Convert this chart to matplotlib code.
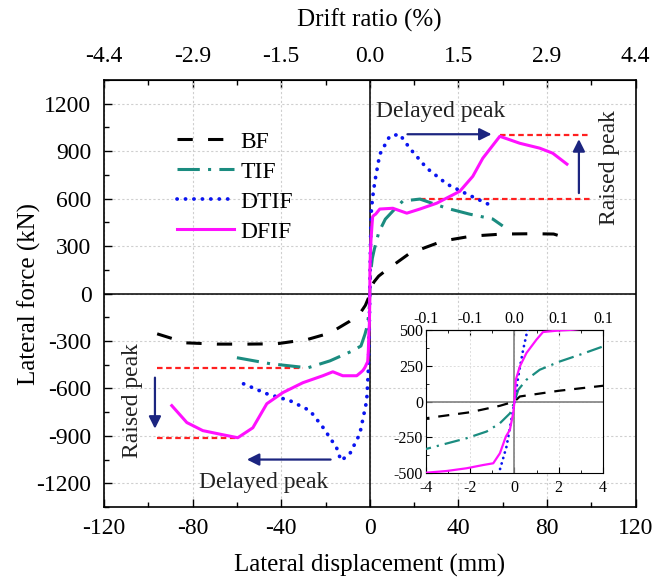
import matplotlib
matplotlib.use("Agg")
import matplotlib.pyplot as plt
from matplotlib.ticker import MultipleLocator

plt.rcParams['font.family'] = ['Liberation Serif', 'DejaVu Serif']
plt.rcParams['axes.unicode_minus'] = False

# ---------------- data (displacement mm, force kN) ----------------
BF_x = [-96, -83, -69, -55, -42, -28, -18, -9, -4, -2, -0.66, 0, 0.24, 2, 4, 7, 18, 33, 46, 60, 74, 83, 89]
BF_y = [-255, -312, -320, -320, -318, -290, -250, -175, -117, -75, -30, 0, 35, 75, 110, 143, 254, 332, 363, 376, 378, 376, 350]

TIF_x = [-60, -45, -28, -18, -7.7, -4, -2.17, -1.26, -0.66, -0.2, 0, 0.17, 0.54, 1.14, 2.05, 2.95, 4, 7,
         10.4, 14.9, 22.6, 34.8, 45, 55.5, 60]
TIF_y = [-406, -444, -470, -426, -362, -332, -257, -210, -152, -82, 0, 82, 152, 222, 280, 327, 385, 470,
         521, 585, 597, 539, 502, 471, 427]

DTIF_x = [-57, -46.5, -36, -27, -21, -15, -13, -9, -4.5, -1.4, -0.7, -0.36, -0.06, 0, 0.17, 0.39, 0.59, 1.2,
          2.3, 4.5, 9, 13.5, 18, 25.7, 34.8, 43.8, 53.3]
DTIF_y = [-571, -634, -678, -741, -849, -975, -1057, -1013, -887, -678, -498, -315, -58, 0, 175, 362, 502, 600,
          710, 880, 995, 1007, 919, 793, 692, 629, 566]

DFIF_x = [-89.4, -82.6, -75.4, -66.4, -59.6, -52.8, -46.5, -39.3, -30.2, -21.2, -16.7, -12.2, -5.9, -4, -3.07,
          -2.17, -1.41, -0.96, -0.66, -0.39, -0.21, -0.06, 0, 0.06, 0.24, 0.54, 0.99, 1.29, 1.9, 2.65, 4.5,
          10.4, 16.7, 22.6, 30.2, 40.6, 46.5, 51, 58.7, 67.7, 76.7, 82.6, 89]
DFIF_y = [-709, -816, -867, -893, -912, -849, -697, -627, -564, -520, -495, -520, -520, -498, -486,
          -467, -444, -432, -362, -245, -199, -82, 0, 152, 245, 339, 432, 486, 495, 502, 534,
          539, 508, 534, 571, 646, 741, 855, 994, 950, 919, 887, 818]

x_ticks = [-120, -80, -40, 0, 40, 80, 120]
drift_labels = ['-4.4', '-2.9', '-1.5', '0.0', '1.5', '2.9', '4.4']
y_ticks = [-1200, -900, -600, -300, 0, 300, 600, 900, 1200]
inset_x_ticks = [-4, -2, 0, 2, 4]
inset_drift_labels = ['-0.1', '-0.1', '0.0', '0.1', '0.1']
inset_y_ticks = [-500, -250, 0, 250, 500]

# reference peak lines (kN) and their extents (mm)
peak_pos = [1000, 600]
peak_pos_x = [(58.7, 100), (22.6, 100)]
peak_neg = [-470, -912]
peak_neg_x = [(-96, -30), (-96, -59.6)]

# ---------------- styles ----------------
C_BF = 'black'
C_TIF = '#1b8c80'
C_DTIF = '#0a14f0'
C_DFIF = '#ff10ff'
C_RED = '#ff2020'
C_ARROW = '#1c2580'
LW = 2.2

styles = [
    dict(color=C_BF, lw=LW, dashes=(5, 5)),
    dict(color=C_TIF, lw=LW, dashes=(7.3, 2.7, 1, 2.7)),
    dict(color=C_DTIF, lw=2.7, dashes=(0.05, 2.2), dash_capstyle='round'),
    dict(color=C_DFIF, lw=LW),
]
series = [(BF_x, BF_y, 'BF'), (TIF_x, TIF_y, 'TIF'), (DTIF_x, DTIF_y, 'DTIF'), (DFIF_x, DFIF_y, 'DFIF')]

W, H = 659, 580
fig = plt.figure(figsize=(W / 100, H / 100), dpi=100)
ax = fig.add_axes([104 / W, 1 - 507 / H, (635.6 - 104) / W, (507 - 80) / H])

FS = 17
ax.set_xlim(-120, 120)
ax.set_ylim(-1350, 1350)
ax.set_xticks(x_ticks)
ax.set_yticks(y_ticks)
ax.xaxis.set_minor_locator(MultipleLocator(20))
ax.yaxis.set_minor_locator(MultipleLocator(150))
ax.tick_params(which='both', direction='in', labelsize=FS, top=False, right=False)
ax.tick_params(axis='x', which='major', pad=8)
ax.tick_params(axis='y', which='major', pad=9)
ax.tick_params(which='major', length=6, width=1)
ax.tick_params(which='minor', length=3.5, width=1)
ax.grid(True, which='major', color='#cfcfcf', linestyle=(0, (2, 2)), lw=0.8)
ax.set_axisbelow(True)
for s in ax.spines.values():
    s.set_linewidth(1.2)

ax.axhline(0, color='black', lw=1.1, zorder=1)
ax.axvline(0, color='black', lw=1.1, zorder=1)

for (xs, ys, lab), st in zip(series, styles):
    ax.plot(xs, ys, label=lab, zorder=3, **st)

for yv, (x0, x1) in zip(peak_pos, peak_pos_x):
    ax.plot([x0, x1], [yv, yv], color=C_RED, lw=1.6, dashes=(2.5, 1.6), zorder=2)
for yv, (x0, x1) in zip(peak_neg, peak_neg_x):
    ax.plot([x0, x1], [yv, yv], color=C_RED, lw=1.6, dashes=(2.5, 1.6), zorder=2)

ap = dict(arrowstyle='-|>', color=C_ARROW, lw=1.6, mutation_scale=18, shrinkA=0, shrinkB=0)
ax.annotate('', xy=(55, 1007), xytext=(17, 1007), arrowprops=ap)
ax.annotate('', xy=(94.4, 976), xytext=(94.4, 635), arrowprops=ap)
ax.annotate('', xy=(-97, -855), xytext=(-97, -532), arrowprops=ap)
ax.annotate('', xy=(-55.5, -1050), xytext=(-17.7, -1050), arrowprops=ap)

ax.text(32, 1150, 'Delayed peak', fontsize=FS, ha='center', va='center', color='#222222')
ax.text(108, 798, 'Raised peak', fontsize=FS, ha='center', va='center', rotation=90, color='#222222')
ax.text(-107, -678, 'Raised peak', fontsize=FS, ha='center', va='center', rotation=90, color='#222222')
ax.text(-48, -1195, 'Delayed peak', fontsize=FS, ha='center', va='center', color='#222222')

ax.set_xlabel('Lateral displacement (mm)', fontsize=18, labelpad=11)
ax.set_ylabel('Lateral force (kN)', fontsize=18, labelpad=-3)

sec = ax.secondary_xaxis('top')
sec.set_xticks(x_ticks, labels=drift_labels)
sec.xaxis.set_minor_locator(MultipleLocator(20))
sec.tick_params(which='both', direction='in', labelsize=FS)
sec.tick_params(which='major', length=6, width=1, pad=9)
sec.tick_params(which='minor', length=3.5, width=1)
sec.set_xlabel('Drift ratio (%)', fontsize=18, labelpad=14)

leg = ax.legend(loc='upper left', bbox_to_anchor=(177 / W, 1 - 131 / H), bbox_transform=fig.transFigure,
                frameon=False, fontsize=FS, handlelength=2.4, handletextpad=0.3, labelspacing=0.36,
                borderpad=0, borderaxespad=0)

# ---------------- inset ----------------
axi = fig.add_axes([426 / W, 1 - 473 / H, 177 / W, 143 / H])
axi.set_xlim(-4, 4)
axi.set_ylim(-500, 500)
axi.set_xticks(inset_x_ticks)
axi.set_yticks(inset_y_ticks)
axi.xaxis.set_minor_locator(MultipleLocator(1))
axi.yaxis.set_minor_locator(MultipleLocator(125))
axi.tick_params(which='both', direction='in', labelsize=11.5)
axi.tick_params(axis='x', which='major', pad=5)
axi.tick_params(axis='y', which='major', pad=2)
axi.tick_params(which='major', length=4)
axi.tick_params(which='minor', length=2)
axi.grid(True, which='major', color='#dddddd', linestyle=(0, (2, 2)), lw=0.7)
axi.set_axisbelow(True)
axi.axhline(0, color='#808080', lw=1.2, zorder=1)
axi.axvline(0, color='#808080', lw=1.2, zorder=1)
inset_styles = [
    dict(color=C_BF, lw=1.6, dashes=(5, 4)),
    dict(color=C_TIF, lw=1.6, dashes=(7, 2.7, 1, 2.7)),
    dict(color=C_DTIF, lw=2.0, dashes=(0.05, 2.0), dash_capstyle='round'),
    dict(color=C_DFIF, lw=1.6),
]
for (xs, ys, lab), st in zip(series, inset_styles):
    axi.plot(xs, ys, zorder=3, clip_on=True, **st)
seci = axi.secondary_xaxis('top')
seci.set_xticks(inset_x_ticks, labels=inset_drift_labels)
seci.xaxis.set_minor_locator(MultipleLocator(1))
seci.tick_params(which='both', direction='in', labelsize=11.5, pad=2)
seci.tick_params(which='major', length=4)
seci.tick_params(which='minor', length=2)

fig.savefig('out.png', dpi=100)
